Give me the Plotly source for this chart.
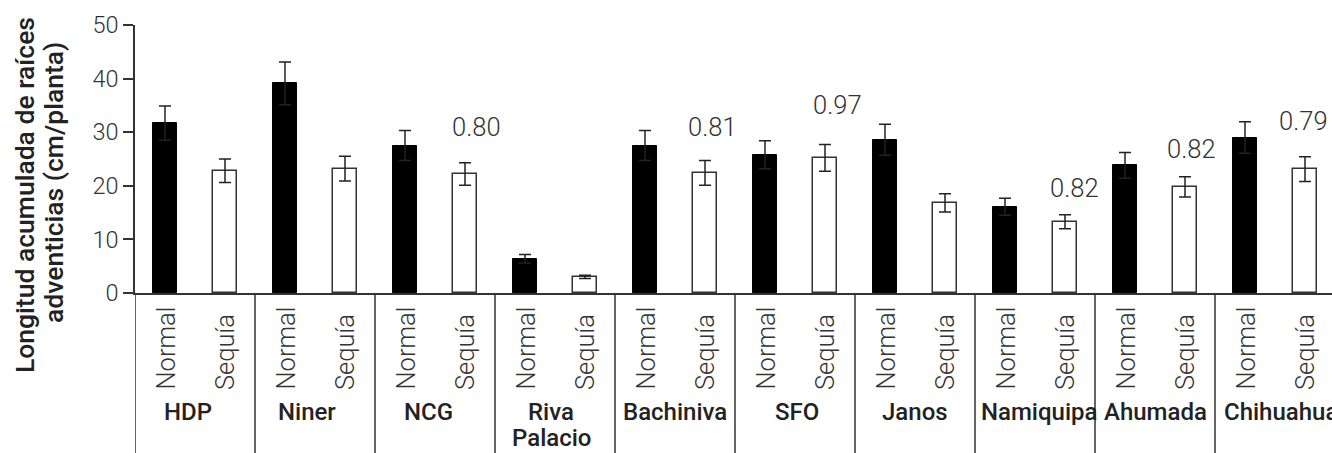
import plotly.graph_objects as go

groups = ["HDP", "Niner", "NCG", "Riva<br>Palacio", "Bachiniva", "SFO", "Janos", "Namiquipa", "Ahumada", "Chihuahua"]
conditions = ["Normal", "Sequía"]
normal = [31.7, 39.1, 27.5, 6.4, 27.5, 25.8, 28.6, 16.1, 23.8, 29.0]
normal_err = [3.2, 4.0, 2.8, 0.8, 2.8, 2.6, 2.9, 1.6, 2.4, 2.95]
sequia = [22.8, 23.2, 22.2, 3.0, 22.4, 25.2, 16.8, 13.3, 19.8, 23.1]
sequia_err = [2.2, 2.3, 2.1, 0.3, 2.3, 2.5, 1.7, 1.3, 1.9, 2.3]
ratio_labels = ["", "", "0.80", "", "0.81", "0.97", "", "0.82", "0.82", "0.79"]
ratio_label_y = [None, None, 30.9, None, 31.0, 35.1, None, 19.6, 26.8, 32.0]
y_ticks = [0, 10, 20, 30, 40, 50]
y_title_lines = ["Longitud acumulada de raíces", "adventicias (cm/planta)"]

# horizontal nudges (px) of the ratio labels relative to their bar
ratio_label_dx = [0, 0, 11, 0, 7, 12, 0, 9, 6, -2]
# per-group nudges (px) of the group names
group_dx = [-7, -8, -7, -4, 0, 2, 0, 4, 0, 6]

n = len(groups)
x_normal = [2 * i for i in range(n)]
x_sequia = [2 * i + 1 for i in range(n)]

DARK = "#222222"
AX = "#333333"
FONT = "Roboto"

W, H = 1332, 453
ML, MT, MB = 135, 25, 160
PH = H - MT - MB

fig = go.Figure()
fig.add_trace(go.Bar(
    x=x_normal, y=normal, width=0.4,
    marker=dict(color="black", line=dict(color="black", width=1)),
    error_y=dict(type="data", array=normal_err, color=DARK, thickness=1.5, width=6),
    name="Normal", showlegend=False,
))
fig.add_trace(go.Bar(
    x=x_sequia, y=sequia, width=0.4,
    marker=dict(color="white", line=dict(color=AX, width=1.5)),
    error_y=dict(type="data", array=sequia_err, color=DARK, thickness=1.5, width=6),
    name="Sequía", showlegend=False,
))

annotations = []
# ratio labels above the Sequía bars
for i in range(n):
    if ratio_labels[i]:
        annotations.append(dict(
            x=x_sequia[i], y=ratio_label_y[i], xref="x", yref="y",
            text=ratio_labels[i], showarrow=False, xanchor="center", yanchor="middle",
            xshift=ratio_label_dx[i], font=dict(family=FONT, size=25.5, color=AX, weight=300),
        ))
# condition labels (rotated)
for i in range(n):
    for xv, cond in zip((x_normal[i], x_sequia[i]), conditions):
        annotations.append(dict(
            x=xv, y=0, xref="x", yref="paper", text=cond, textangle=-90,
            showarrow=False, xanchor="center", yanchor="bottom", yshift=-99,
            font=dict(family=FONT, size=25.5, color=AX, weight=300),
        ))
# group labels (one annotation per line to keep the tight line spacing)
for i in range(n):
    for k, line in enumerate(groups[i].split("<br>")):
        annotations.append(dict(
            x=2 * i + 0.5, y=0, xref="x", yref="paper", text=line,
            showarrow=False, xanchor="center", yanchor="middle",
            yshift=-(412 - (H - MB)) - 26 * k, xshift=group_dx[i],
            font=dict(family=FONT, size=24, color=DARK, weight=500),
        ))
# y title, two lines
title_pos = [(25, 195), (53, 183)]
for line, (px, py) in zip(y_title_lines, title_pos):
    annotations.append(dict(
        x=0, y=(H - MB - py) / PH, xref="paper", yref="paper", text=line,
        textangle=-90, showarrow=False, xanchor="center", yanchor="middle",
        xshift=px - ML,
        font=dict(family=FONT, size=26.5, color=DARK, weight=500),
    ))

shapes = []
for i in range(n + 1):
    shapes.append(dict(
        type="line", xref="x", yref="paper", x0=2 * i - 0.5, x1=2 * i - 0.5,
        y0=0, y1=-0.7, line=dict(color=AX, width=1.5),
    ))

fig.update_layout(
    width=W, height=H,
    margin=dict(l=ML, r=0, t=MT, b=MB),
    paper_bgcolor="white", plot_bgcolor="white",
    bargap=0, barmode="overlay",
    annotations=annotations, shapes=shapes,
    xaxis=dict(range=[-0.5, 19.45], showline=True, linecolor=AX, linewidth=1.5,
               showticklabels=False, ticks="", showgrid=False, zeroline=False),
    yaxis=dict(range=[0, 50], tickvals=y_ticks, showline=True, linecolor=AX, linewidth=1.5,
               ticks="outside", ticklen=10, tickwidth=1.5, tickcolor=AX,
               showgrid=False, zeroline=False,
               tickfont=dict(family=FONT, size=23.5, color=AX, weight=300)),
)

fig.write_html(
    "out.html",
    config={"displayModeBar": False},
    post_script="document.body.style.margin='0';document.body.style.overflow='hidden';",
)
